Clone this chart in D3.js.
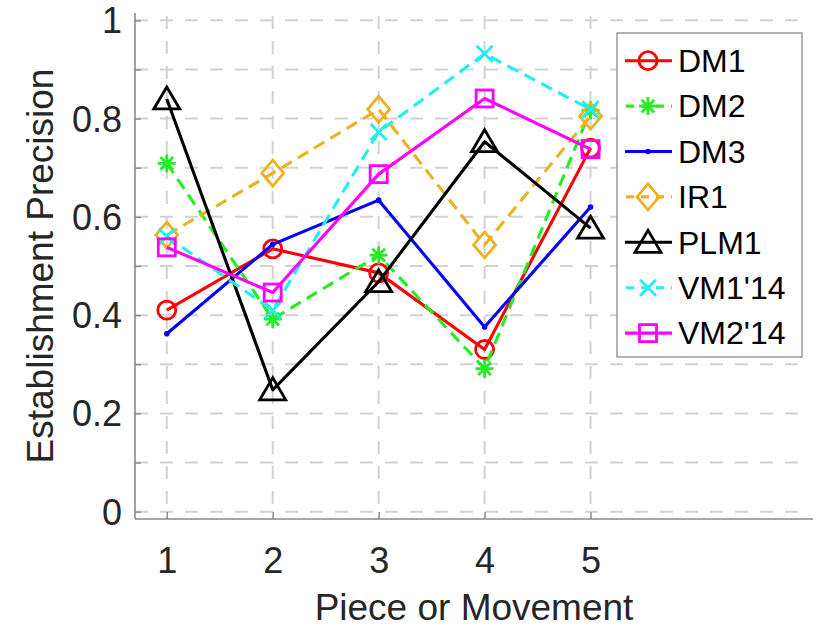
<!DOCTYPE html>
<html>
<head>
<meta charset="utf-8">
<script src="https://cdn.jsdelivr.net/npm/d3@7"></script>
<style>
  body { margin: 0; background: #fff; }
  text { font-family: "Liberation Sans", Arial, Helvetica, sans-serif; fill: #262626; }
</style>
</head>
<body>
<div id="chart"></div>
<script>
// Data
const pieces = [1, 2, 3, 4, 5];
const seriesNames = ["DM1", "DM2", "DM3", "IR1", "PLM1", "VM1'14", "VM2'14"];
const dm1  = [0.410, 0.535, 0.486, 0.330, 0.740];
const dm2  = [0.709, 0.392, 0.522, 0.291, 0.817];
const dm3  = [0.362, 0.544, 0.634, 0.376, 0.620];
const ir1  = [0.563, 0.689, 0.819, 0.543, 0.805];
const plm1 = [0.840, 0.248, 0.468, 0.753, 0.577];
const vm1  = [0.560, 0.410, 0.773, 0.932, 0.819];
const vm2  = [0.538, 0.446, 0.687, 0.841, 0.738];
const yTickLabels = [0, 0.2, 0.4, 0.6, 0.8, 1];
const yGridValues = [0, 0.1, 0.2, 0.3, 0.4, 0.5, 0.6, 0.7, 0.8, 0.9, 1];

// Styles (MATLAB-like)
const seriesColors = ["#ff0000", "#22ee22", "#0000ff", "#edb120", "#000000", "#22eeee", "#ff00ff"];
const seriesDashed = [false, true, false, true, false, true, false];
const seriesMarkers = ["circle", "star", "point", "diamond", "triangle", "cross", "square"];

const seriesValues = [dm1, dm2, dm3, ir1, plm1, vm1, vm2];

const width = 826, height = 628;
const svg = d3.select("#chart").append("svg")
    .attr("width", width)
    .attr("height", height);

// 1. Scales
const x = d3.scaleLinear().domain([0.7, 7.1]).range([135, 813]);
const y = d3.scaleLinear().domain([-0.015, 1.015]).range([519, 13]);

// 2. Grid
const grid = svg.append("g");
grid.selectAll(".hgrid")
    .data(yGridValues)
    .join("line")
    .attr("x1", x(0.7)).attr("x2", x(7.0))
    .attr("y1", d => y(d)).attr("y2", d => y(d))
    .attr("stroke", "#d2d2d2").attr("stroke-width", 2)
    .attr("stroke-dasharray", "13,12");
grid.selectAll(".vgrid")
    .data(pieces)
    .join("line")
    .attr("x1", d => x(d)).attr("x2", d => x(d))
    .attr("y1", y(1.015) + 3).attr("y2", y(-0.015))
    .attr("stroke", "#d2d2d2").attr("stroke-width", 2)
    .attr("stroke-dasharray", "13,12");

// 3. Axes (box off, ticks inward)
const yAxis = d3.axisLeft(y).tickValues(yGridValues).tickSize(-6)
    .tickFormat(d => yTickLabels.some(t => Math.abs(t - d) < 1e-9) ? d3.format("")(+d.toFixed(1)) : "");
const gy = svg.append("g").attr("transform", `translate(${x(0.7)},0)`).call(yAxis);
gy.select(".domain").attr("d", `M0,${y(1.015)}V${y(-0.015)}`);

const xAxis = d3.axisBottom(x).tickValues(pieces).tickSize(-7).tickFormat(d3.format("d"));
const gx = svg.append("g").attr("transform", `translate(0,${y(-0.015)})`).call(xAxis);
gx.select(".domain").attr("d", `M${x(0.7)},0H${x(7.1)}`);

[gx, gy].forEach(g => {
    g.select(".domain").attr("stroke", "#8a8a8a").attr("stroke-width", 1.6);
    g.selectAll(".tick line").attr("stroke", "#8a8a8a").attr("stroke-width", 1.4);
    g.selectAll(".tick text").attr("font-size", 36).attr("fill", "#262626")
        .style("font-family", "'Liberation Sans', Arial, sans-serif");
});
gy.selectAll(".tick text").attr("x", -13).attr("dy", "0.35em");
gx.selectAll(".tick text").attr("y", 0).attr("dy", 0).attr("transform", "translate(0,54)");

// 4. Axis labels
svg.append("text")
    .attr("x", (x(0.7) + x(7.1)) / 2).attr("y", 620)
    .attr("text-anchor", "middle").attr("font-size", 37)
    .text("Piece or Movement");
svg.append("text")
    .attr("transform", `translate(53,${(y(-0.015) + y(1.015)) / 2}) rotate(-90)`)
    .attr("text-anchor", "middle").attr("font-size", 37)
    .text("Establishment Precision");

// Marker drawing helper
function drawMarker(g, type, color) {
    const sw = 2.8;
    if (type === "circle") {
        g.append("circle").attr("r", 9).attr("fill", "none").attr("stroke", color).attr("stroke-width", sw);
    } else if (type === "square") {
        g.append("rect").attr("x", -8.5).attr("y", -8.5).attr("width", 17).attr("height", 17)
            .attr("fill", "none").attr("stroke", color).attr("stroke-width", sw);
    } else if (type === "diamond") {
        g.append("path").attr("d", "M0,-13L11,0L0,13L-11,0Z")
            .attr("fill", "none").attr("stroke", color).attr("stroke-width", sw);
    } else if (type === "triangle") {
        g.append("path").attr("d", "M0,-12L13,10L-13,10Z")
            .attr("fill", "none").attr("stroke", color).attr("stroke-width", sw);
    } else if (type === "star") {
        const r = 9, q = r * Math.SQRT1_2;
        g.append("path").attr("d", `M${-r},0H${r}M0,${-r}V${r}M${-q},${-q}L${q},${q}M${-q},${q}L${q},${-q}`)
            .attr("stroke", color).attr("stroke-width", sw);
    } else if (type === "cross") {
        const r = 8;
        g.append("path").attr("d", `M${-r},${-r}L${r},${r}M${-r},${r}L${r},${-r}`)
            .attr("stroke", color).attr("stroke-width", sw);
    } else if (type === "point") {
        g.append("circle").attr("r", 2.8).attr("fill", color);
    }
}

// 5. Series lines and markers
const line = d3.line().x((d, i) => x(pieces[i])).y(d => y(d));
const plot = svg.append("g");
seriesValues.forEach((vals, s) => {
    plot.append("path")
        .datum(vals)
        .attr("d", line)
        .attr("fill", "none")
        .attr("stroke", seriesColors[s])
        .attr("stroke-width", 3.1)
        .attr("stroke-linejoin", "round")
        .attr("stroke-dasharray", seriesDashed[s] ? "12,7" : null);
    vals.forEach((v, i) => {
        const m = plot.append("g").attr("transform", `translate(${x(pieces[i])},${y(v)})`);
        drawMarker(m, seriesMarkers[s], seriesColors[s]);
    });
});

// 6. Legend
const legend = svg.append("g");
legend.append("rect")
    .attr("x", 617).attr("y", 33).attr("width", 185).attr("height", 324)
    .attr("fill", "#fff").attr("stroke", "#8a8a8a").attr("stroke-width", 1.3);
seriesNames.forEach((name, s) => {
    const rowY = 60.7 + s * 45.4;
    legend.append("line")
        .attr("x1", 625).attr("x2", 672).attr("y1", rowY).attr("y2", rowY)
        .attr("stroke", seriesColors[s]).attr("stroke-width", 3.1)
        .attr("stroke-dasharray", seriesDashed[s] ? "8,7" : null)
        .attr("stroke-dashoffset", seriesDashed[s] ? -1 : null);
    const m = legend.append("g").attr("transform", `translate(648,${rowY})`);
    drawMarker(m, seriesMarkers[s], seriesColors[s]);
    legend.append("text")
        .attr("x", 678).attr("y", rowY).attr("dy", "0.35em")
        .attr("font-size", 32).style("fill", "#000")
        .text(name);
});
</script>
</body>
</html>
